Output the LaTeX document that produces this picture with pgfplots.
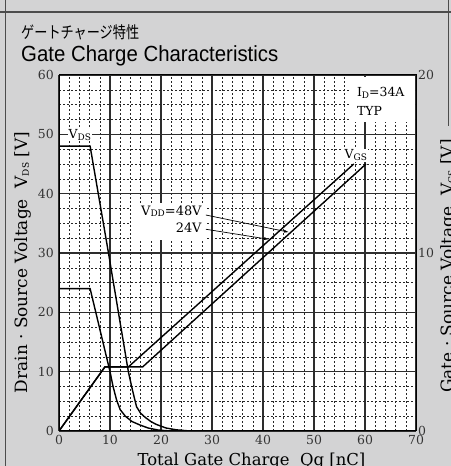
\documentclass[border=0pt]{standalone}
\usepackage{pgfplots}
\pgfplotsset{compat=1.18}
\usetikzlibrary{arrows.meta}
\usepackage{fontspec}
\setmainfont{DejaVu Serif}
\newfontfamily\jpfont[FakeStretch=0.8]{Noto Sans CJK JP}
\newfontfamily\titlefont[FakeStretch=0.93]{Liberation Sans}
\definecolor{bggray}{RGB}{211,211,212}
\definecolor{majgrid}{RGB}{45,45,45}
\newcommand\sub[1]{\raisebox{-0.2ex}{\fontsize{9}{10}\selectfont #1}}
\begin{document}
\begin{tikzpicture}[x=1bp,y=1bp]
\fill[bggray] (0,0) rectangle (451,466);
\path[use as bounding box] (0,0) rectangle (451,466);
\draw[line width=1.2bp, black!70] (5.5,0) -- (5.5,466);
\draw[line width=1.2bp, black!70] (0,454) -- (451,454);
\draw[line width=1bp, black!70] (448,466) -- (448,340);
\node[anchor=base west, inner sep=0, font=\jpfont\fontsize{16.5}{18}\selectfont] at (21,427) {ゲートチャージ特性};
\node[anchor=base west, inner sep=0, font=\titlefont\fontsize{22}{24}\selectfont] at (21,404.5) {Gate Charge Characteristics};
\node[anchor=base, rotate=90, inner sep=0, font=\fontsize{17}{18}\selectfont] at (27,203.5) {Drain · Source Voltage\ \ V\sub{DS} [V]};
\node[anchor=base, rotate=90, inner sep=0, font=\fontsize{17}{18}\selectfont] at (453,200) {Gate · Source Voltage\ \ V\sub{GS} [V]};
\node[anchor=base, inner sep=0, font=\fontsize{16.5}{18}\selectfont] at (251.5,0.5) {Total Gate Charge\ \ Qg [nC]};

\begin{axis}[
 at={(59bp,35bp)}, anchor=south west,
 width=357bp, height=356bp, scale only axis,
 xmin=0, xmax=70, ymin=0, ymax=60,
 xtick={0,10,...,70}, ytick={0,10,...,60},
 minor x tick num=4, minor y tick num=3,
 grid=both,
 major grid style={draw=majgrid, line width=1.1bp},
 minor grid style={draw=black!85, line width=0.55bp, dash pattern=on 2bp off 2bp},
 axis background/.style={fill=white},
 tick style={draw=none},
 axis line style={line width=1bp},
 /pgf/number format/assume math mode=true,
 ticklabel style={font=\fontsize{12.5}{14}\selectfont, text=black!80},
 yticklabel style={anchor=east, inner sep=0pt, xshift=-5bp},
 xticklabel style={anchor=north, inner sep=0pt, yshift=-4bp},
 ytick pos=left, xtick pos=bottom,
]
\addplot[black, line width=1.4bp] coordinates {
 (0,48) (6.1,48) (9.6,30.5) (13.6,10) (14.4,6.9) (15.2,4.1) (16.0,3.0) (16.9,2.3) (18,1.6) (19.1,1.1) (21,0.5) (23,0.2) (25,0.05) (27,0) (70,0)};
\addplot[black, line width=1.4bp] coordinates {
 (0,24) (6.1,24) (10,10) (10.6,7.5) (11.3,5.2) (12,3.6) (13,2.5) (14.3,1.6) (15.9,1.0) (17.5,0.5) (19.5,0.15) (22,0) (70,0)};
\node[fill=white, inner sep=1.2bp, font=\fontsize{12.5}{14}\selectfont] at (axis cs:4.1,49.9) {V\sub{DS}};
\fill[white] (axis cs:57.2,52.1) rectangle (axis cs:69.8,59.6);
\node[anchor=west, inner sep=0, font=\fontsize{12.5}{14}\selectfont] at (axis cs:58.4,57.0) {I\sub{D}=34A};
\node[anchor=west, inner sep=0, font=\fontsize{12.5}{14}\selectfont] at (axis cs:58.4,53.9) {TYP};
\fill[white] (axis cs:14.2,32.2) rectangle (axis cs:28.8,38.4);
\node[anchor=east, inner sep=0, font=\fontsize{13}{14}\selectfont] at (axis cs:28.0,37.1) {V\sub{DD}=48V};
\node[anchor=east, inner sep=0, font=\fontsize{13}{14}\selectfont] at (axis cs:28.0,34.2) {24V};
\draw[line width=0.7bp, -{Latex[length=5bp,width=3bp]}] (axis cs:28.8,36.4) -- (axis cs:45.1,33.5);
\draw[line width=0.7bp, -{Latex[length=5bp,width=3bp]}] (axis cs:28.8,34.0) -- (axis cs:41.2,32.3);
\node[fill=white, inner sep=1.2bp, font=\fontsize{12.5}{14}\selectfont] at (axis cs:58.2,46.5) {V\sub{GS}};
\end{axis}

\begin{axis}[
 at={(59bp,35bp)}, anchor=south west,
 width=357bp, height=356bp, scale only axis,
 xmin=0, xmax=70, ymin=0, ymax=20,
 axis x line=none, axis y line*=right,
 ytick={0,10,20},
 tick style={draw=none},
 axis line style={line width=1bp},
 /pgf/number format/assume math mode=true,
 ticklabel style={font=\fontsize{12.5}{14}\selectfont, text=black!80},
 yticklabel style={anchor=west, inner sep=0pt, xshift=2bp},
]
\addplot[black, line width=1.4bp] coordinates {(0,0) (9,3.6) (13.6,3.6) (57.8,15)};
\addplot[black, line width=1.4bp] coordinates {(0,0) (9,3.6) (16.4,3.6) (60.2,15)};
\end{axis}
\end{tikzpicture}
\end{document}
